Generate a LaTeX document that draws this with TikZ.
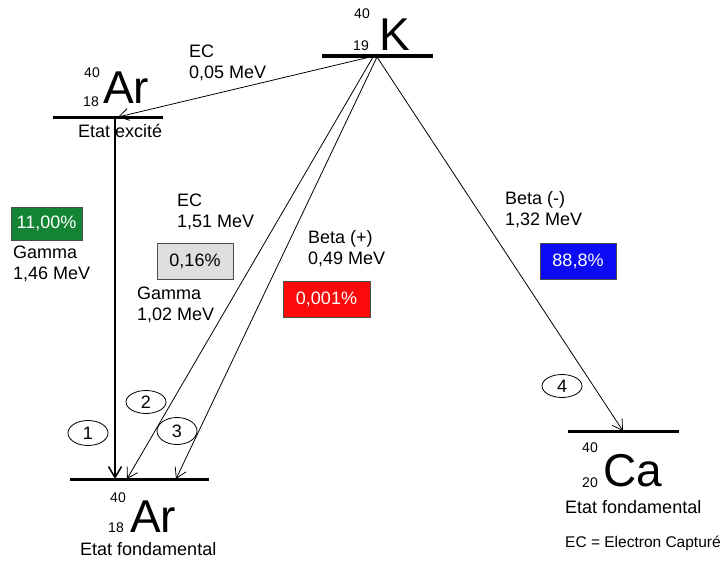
\documentclass[tikz,border=0pt]{standalone}
\usepackage{fontspec}
\setmainfont{Liberation Sans}
\usetikzlibrary{arrows.meta,shapes.geometric}
\definecolor{pgreen}{RGB}{18,132,52}
\definecolor{pgray}{RGB}{222,222,222}
\definecolor{pred}{RGB}{250,10,10}
\definecolor{pblue}{RGB}{10,10,245}
\begin{document}
\begin{tikzpicture}[x=1pt,y=-1pt,
  lbl/.style={anchor=base west,inner sep=0pt,align=left,font=\fontsize{18}{20.5}\selectfont},
  big/.style={anchor=base west,inner sep=0pt,font=\fontsize{46}{46}\selectfont},
  iso/.style={anchor=base east,inner sep=0pt,font=\fontsize{14}{14}\selectfont},
  level/.style={line width=3pt},
  tr/.style={line width=0.8pt,-{Straight Barb[length=10pt,width=12pt,line width=0.8pt]}},
  pct/.style={draw=black!70,line width=0.8pt,inner sep=0pt,font=\fontsize{18}{18}\selectfont},
  num/.style={ellipse,draw,line width=0.8pt,minimum width=40pt,minimum height=25pt,inner sep=0pt,font=\fontsize{18}{18}\selectfont}]
\useasboundingbox (0,0) rectangle (726,560);

% levels
\coordinate (kL) at (322,56); \coordinate (kR) at (433,56);
\coordinate (aeL) at (53,117); \coordinate (aeR) at (163,117);
\coordinate (agL) at (70,479); \coordinate (agR) at (209,479);
\coordinate (caL) at (568,431); \coordinate (caR) at (679,431);
\draw[line width=4pt] (kL) -- (kR);
\draw[level] (aeL) -- (aeR);
\draw[level] (agL) -- (agR);
\draw[level] (caL) -- (caR);

% element labels
\node[big] (Ksym) at (379,50) {K};
\node[iso] (K40) at (370,18) {40};
\node[iso] (K19) at (369,50) {19};
\node[big] (ArE) at (103,103) {Ar};
\node[iso] (ArE40) at (100,77) {40};
\node[iso] (ArE18) at (99,106) {18};
\node[lbl] (etatE) at (78,137) {Etat excité};
\node[big] (ArG) at (130,532) {Ar};
\node[iso] (ArG40) at (126,502) {40};
\node[iso] (ArG18) at (124,532) {18};
\node[lbl] (etatG) at (80,555) {Etat fondamental};
\node[big] (Ca) at (603,486) {Ca};
\node[iso] (Ca40) at (598,452) {40};
\node[iso] (Ca20) at (598,487) {20};
\node[lbl] (etatC) at (565,513) {Etat fondamental};
\node[anchor=base west,inner sep=0pt,font=\fontsize{15.5}{16}\selectfont] (ecdef) at (565,547) {EC = Electron Capturé};

% transition endpoints
\coordinate (s0) at (370,57);
\coordinate (s2) at (373,57);
\coordinate (s3) at (377,57);
\coordinate (s4) at (377,57);
\coordinate (e0) at (118,117);
\coordinate (v0) at (115,117);
\coordinate (e1) at (115,479);
\coordinate (e2) at (127,479);
\coordinate (e3) at (176,479);
\coordinate (e4) at (623,431);

\draw[tr] (s0) -- (e0);
\draw[line width=1.8pt,-{Straight Barb[length=11pt,width=13pt,line width=1.5pt]}] (v0) -- (e1);
\draw[tr] (s2) -- (e2);
\draw[tr] (s3) -- (e3);
\draw[tr] (s4) -- (e4);

% labels (anchor = baseline of the last line)
\node[lbl] (l0) at (189,78) {EC\\0,05 MeV};
\node[lbl] (l1) at (13,279) {Gamma\\1,46 MeV};
\node[lbl] (l2a) at (177,227) {EC\\1,51 MeV};
\node[lbl] (l2b) at (137,320) {Gamma\\1,02 MeV};
\node[lbl] (l3) at (308,264) {Beta (+)\\0,49 MeV};
\node[lbl] (l4) at (505,225) {Beta (-)\\1,32 MeV};

% percentage boxes
\node[pct,fill=pgreen,text=white,minimum width=71pt,minimum height=33pt] (p1) at (46.5,223.5) {11,00\%};
\node[pct,fill=pgray,text=black,minimum width=76pt,minimum height=36pt] (p2) at (195,261) {0,16\%};
\node[pct,fill=pred,text=white,minimum width=87pt,minimum height=36pt] (p3) at (326.5,299) {0,001\%};
\node[pct,fill=pblue,text=white,minimum width=76pt,minimum height=36pt] (p4) at (578,261) {88,8\%};

% numbers
\node[num] (n1) at (88,433) {1};
\node[num,minimum height=23pt] (n2) at (146,402) {2};
\node[num,minimum height=27pt] (n3) at (177,431) {3};
\node[num,minimum height=23pt] (n4) at (562,386) {4};
\end{tikzpicture}
\end{document}
